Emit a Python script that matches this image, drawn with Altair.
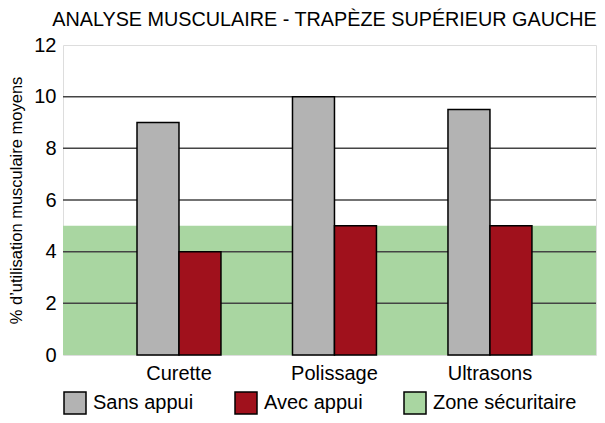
import altair as alt
import pandas as pd

categories = ["Curette", "Polissage", "Ultrasons"]
series = ["Sans appui", "Avec appui"]
sans_appui = [9, 10, 9.5]
avec_appui = [4, 5, 5]
zone_label = "Zone sécuritaire"
zone_max = 5
grid_values = [2, 4, 6, 8, 10]
y_ticks = [0, 2, 4, 6, 8, 10, 12]

legend_domain = ["Sans appui", "Avec appui", "Zone sécuritaire"]
legend_colors = ["#b3b3b3", "#a0111c", "#a9d6a1"]

rows = []
for c, s, a in zip(categories, sans_appui, avec_appui):
    rows.append({"cat": c, "serie": series[0], "val": s})
    rows.append({"cat": c, "serie": series[1], "val": a})
bars_df = pd.DataFrame(rows)
zone_df = pd.DataFrame({"y0": [0], "y1": [zone_max], "serie": [zone_label]})
grid_df = pd.DataFrame({"v": grid_values})

FONT = "Liberation Sans"

color = alt.Color(
    "serie:N",
    scale=alt.Scale(domain=legend_domain, range=legend_colors),
    legend=alt.Legend(
        title=None, orient="none", legendX=0, legendY=346, direction="horizontal",
        symbolType="square", symbolSize=484, symbolStrokeColor="black",
        symbolStrokeWidth=1.5, symbolOpacity=1, labelFontSize=20, labelFont=FONT,
        labelColor="black", columnPadding=38, labelLimit=300, labelOffset=6,
    ),
)

yscale = alt.Scale(domain=[0, 12], nice=False)

zone = alt.Chart(zone_df).mark_rect(opacity=1).encode(
    y=alt.Y("y0:Q", scale=yscale),
    y2="y1:Q",
    color=color,
)

grid = alt.Chart(grid_df).mark_rule(color="#444444", strokeWidth=1.5).encode(
    y=alt.Y("v:Q", scale=yscale)
)

bars = alt.Chart(bars_df).mark_bar(stroke="black", strokeWidth=1.5, opacity=1).encode(
    x=alt.X("cat:N", sort=categories,
            scale=alt.Scale(paddingInner=0.46, paddingOuter=0.444, align=0.536),
            axis=alt.Axis(title=None, labelAngle=0, ticks=False, domain=False,
                          labelFontSize=20, labelFont=FONT, labelColor="black",
                          labelPadding=8)),
    xOffset=alt.XOffset("serie:N", sort=series),
    y=alt.Y("val:Q", scale=yscale,
            axis=alt.Axis(title="% d\u2019utilisation musculaire moyens",
                          values=y_ticks, grid=False, ticks=False,
                          domain=False, labelFontSize=20, labelFont=FONT,
                          labelColor="black", labelPadding=7,
                          titleFontSize=16.5, titleFont=FONT, titleFontWeight="normal",
                          titleColor="black", titlePadding=9)),
    color=color,
)

chart = alt.layer(zone, grid, bars).properties(
    width=533, height=310,
    title=alt.Title("ANALYSE MUSCULAIRE - TRAPÈZE SUPÉRIEUR GAUCHE", fontSize=19.8,
                    font=FONT, fontWeight="normal", color="black", anchor="end",
                    offset=5),
).configure_view(stroke="black", strokeWidth=2).configure(
    padding={"left": 0, "top": 2, "right": 0, "bottom": 0})

chart.save("out.html", embed_options={"renderer": "svg", "actions": False})
